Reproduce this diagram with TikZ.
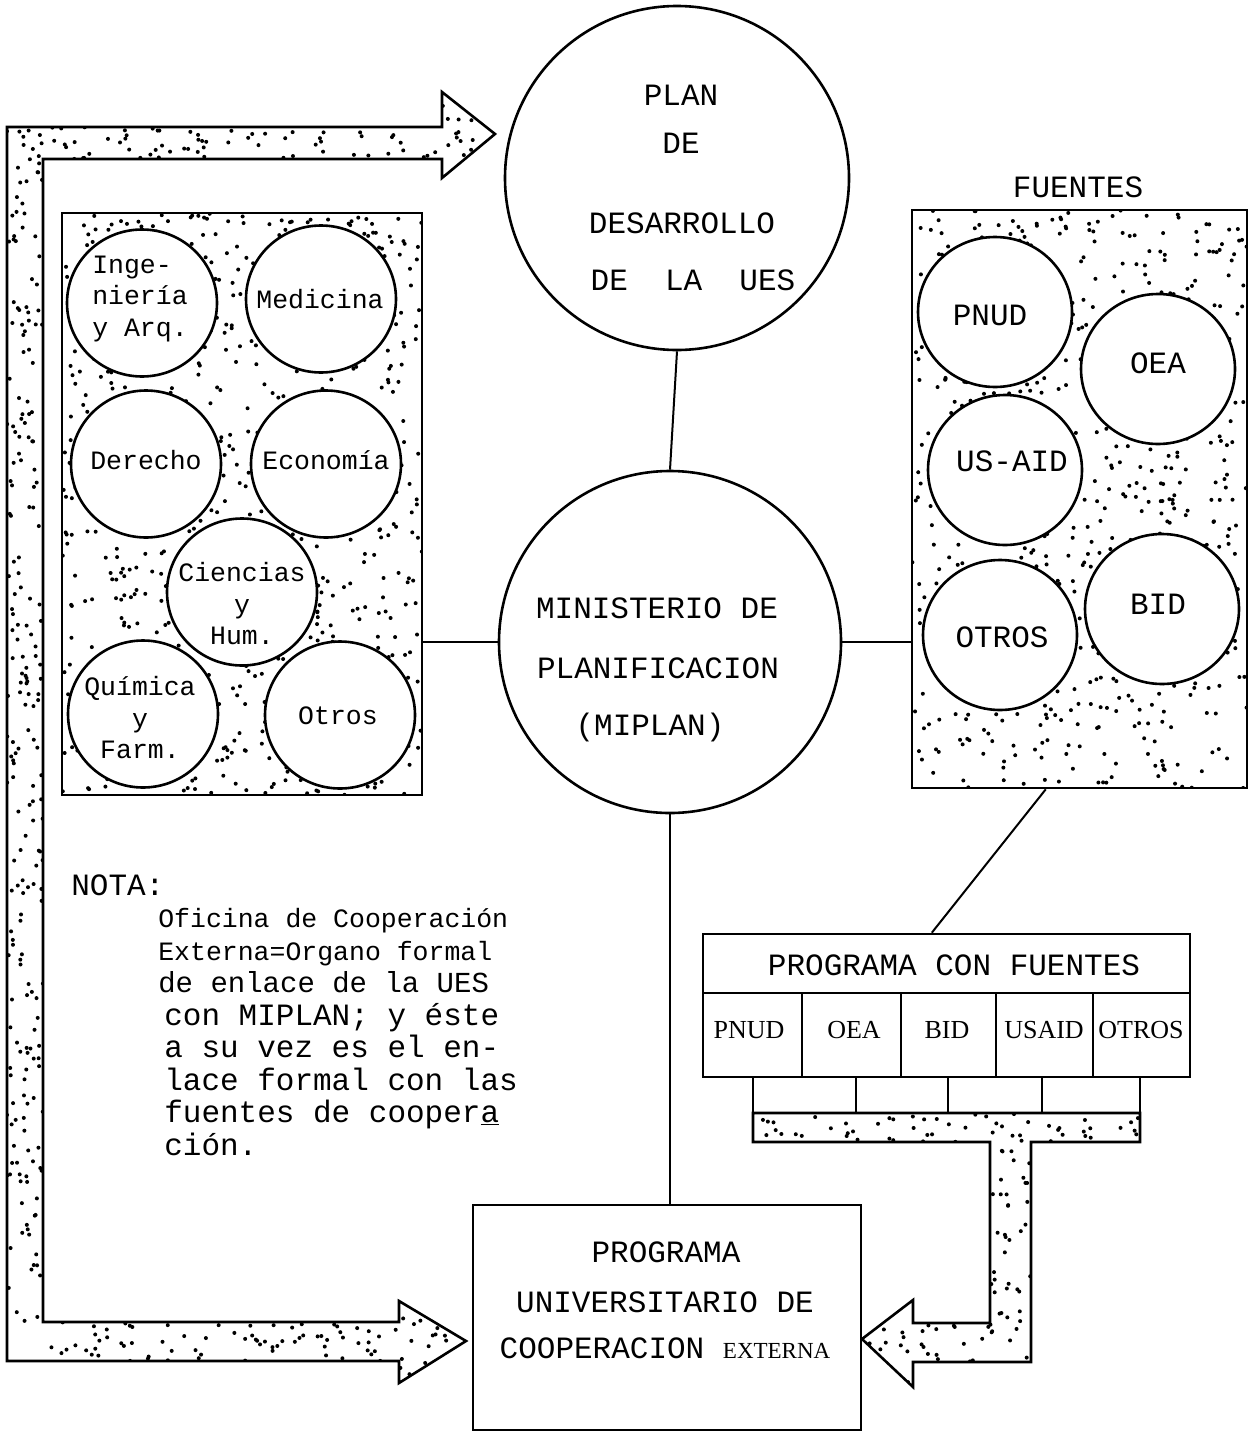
\documentclass[tikz,border=0pt]{standalone}
\usepackage{fontspec}
\setmainfont{Liberation Mono}
\newfontfamily\serfnt{Liberation Serif}
\usetikzlibrary{shapes.geometric,calc}
\newcommand\mystipple[5]{\foreach \i in {1,...,#5}{\fill[black] ({#1+rnd*(#3-#1)},{#2+rnd*(#4-#2)}) circle[radius=2pt];}}
\begin{document}
\begin{tikzpicture}[x=1pt,y=-1pt, line width=2.6pt, line join=miter,
  big/.style={font=\fontsize{31}{36}\selectfont, inner sep=0pt},
  mid/.style={font=\fontsize{29}{34}\selectfont, inner sep=0pt},
  small/.style={font=\fontsize{26.5}{31.5}\selectfont, inner sep=0pt},
  ser/.style={font=\serfnt\fontsize{26}{30}\selectfont, inner sep=0pt},
  facball/.style={ellipse, draw, fill=white, inner sep=0pt, minimum width=150pt, minimum height=147pt},
  srcball/.style={ellipse, draw, fill=white, inner sep=0pt, minimum width=154pt, minimum height=150pt},
  bigball/.style={circle, draw, fill=white, inner sep=0pt, minimum size=#1},
  box/.style={rectangle, draw, fill=white, inner sep=0pt},
  conn/.style={line width=2pt},
]
\pgfmathsetseed{7}
\fill[white] (0,0) rectangle (1253,1432);
\useasboundingbox (0,0) rectangle (1253,1432);

% big L arrow (left side)
\draw[fill=white, path picture={
    \mystipple{7}{127}{442}{159}{72}
    \mystipple{7}{159}{43}{1322}{210}
    \mystipple{43}{1322}{399}{1361}{72}
    \mystipple{442}{92}{495}{178}{22}
    \mystipple{399}{1301}{466}{1383}{28}}]
  (7,1361) -- (7,127) -- (442,127) -- (442,92) -- (495,134) -- (442,178) -- (442,159)
  -- (43,159) -- (43,1322) -- (399,1322) -- (399,1301) -- (466,1341) -- (399,1383)
  -- (399,1361) -- cycle;

% top circle
\node[bigball=344pt] (plan) at (677,178) {};
\node[big] (plan1) at (681,95) {PLAN};
\node[big] (plan2) at (681,143) {DE};
\node[big] (plan3) at (682,223) {DESARROLLO};
\node[big] (plan4) at (693,280) {DE~~LA~~UES};

% MIPLAN circle
\node[bigball=342pt] (miplan) at (670,642) {};
\node[big] (mip1) at (657,608) {MINISTERIO DE};
\node[big] (mip2) at (658,668) {PLANIFICACION};
\node[big] (mip3) at (650,727) {(MIPLAN)};

% faculties box (path picture coordinates are relative to the node centre)
\node[box, minimum width=360pt, minimum height=582pt,
  path picture={\mystipple{-180}{-291}{180}{291}{800}}] (facbox) at (242,504) {};
\node[facball] (ing) at (142,303) {};
\node[small, align=left] (ingt) at (140,299) {Inge-\\niería\\y Arq.};
\node[facball] (med) at (321,299) {};
\node[small] (medt) at (320,299) {Medicina};
\node[facball] (der) at (146,464) {};
\node[small] (dert) at (146,460) {Derecho};
\node[facball] (eco) at (326,464) {};
\node[small] (ecot) at (326,460) {Economía};
\node[facball] (cie) at (242,592) {};
\node[small, align=center] (ciet) at (242,604) {Ciencias\\y\\Hum.};
\node[facball] (qui) at (143,714) {};
\node[small, align=center] (quit) at (140,718) {Química\\y\\Farm.};
\node[facball] (otr) at (340,715) {};
\node[small] (otrt) at (338,716) {Otros};

% sources box
\node[big] (fuentes) at (1078,187) {FUENTES};
\node[box, minimum width=335pt, minimum height=578pt,
  path picture={\mystipple{-167.5}{-289}{167.5}{289}{640}}] (fbox) at (1079.5,499) {};
\node[srcball] (pnud) at (995,312) {};
\node[big] (pnudt) at (990,315) {PNUD};
\node[srcball] (oea) at (1158,369) {};
\node[big] (oeat) at (1158,363) {OEA};
\node[srcball] (usaid) at (1005,470) {};
\node[big] (usaidt) at (1012,461) {US-AID};
\node[srcball] (bid) at (1162,609) {};
\node[big] (bidt) at (1158,604) {BID};
\node[srcball] (otros) at (1000,635) {};
\node[big] (otrost) at (1002,637) {OTROS};

% programa con fuentes table
\node[box, minimum width=487pt, minimum height=59pt] (ptitle) at (946.5,963.5) {};
\node[big] (ptitlet) at (954,965) {PROGRAMA CON FUENTES};
\node[box, minimum width=99pt, minimum height=84pt] (c1) at (752.5,1035) {};
\node[box, minimum width=99pt, minimum height=84pt] (c2) at (851.5,1035) {};
\node[box, minimum width=95pt, minimum height=84pt] (c3) at (948.5,1035) {};
\node[box, minimum width=97pt, minimum height=84pt] (c4) at (1044.5,1035) {};
\node[box, minimum width=97pt, minimum height=84pt] (c5) at (1141.5,1035) {};
\node[ser] (c1t) at (749,1030) {PNUD};
\node[ser] (c2t) at (854,1030) {OEA};
\node[ser] (c3t) at (947,1030) {BID};
\node[ser] (c4t) at (1044,1030) {USAID};
\node[ser] (c5t) at (1141,1030) {OTROS};
\node[box, line width=2pt, minimum width=103pt, minimum height=36pt] (s1) at (804.5,1095) {};
\node[box, line width=2pt, minimum width=92pt, minimum height=36pt] (s2) at (902,1095) {};
\node[box, line width=2pt, minimum width=94pt, minimum height=36pt] (s3) at (995,1095) {};
\node[box, line width=2pt, minimum width=98pt, minimum height=36pt] (s4) at (1091,1095) {};

% right arrow from table to programa
\draw[fill=white, path picture={
    \mystipple{753}{1113}{1140}{1142}{55}
    \mystipple{990}{1142}{1031}{1362}{42}
    \mystipple{913}{1323}{990}{1362}{15}
    \mystipple{862}{1300}{913}{1387}{18}}]
  (753,1113) -- (1140,1113) -- (1140,1142) -- (1031,1142) -- (1031,1362) -- (913,1362)
  -- (913,1387) -- (862,1339) -- (913,1300) -- (913,1323) -- (990,1323) -- (990,1142)
  -- (753,1142) -- cycle;

% programa universitario box
\node[box, minimum width=388pt, minimum height=225pt] (puce) at (667,1317.5) {};
\node[big] (puce1) at (666,1252) {PROGRAMA};
\node[big] (puce2) at (665,1302) {UNIVERSITARIO DE};
\node[big] (puce3) at (665,1348) {COOPERACION {\serfnt\fontsize{23}{26}\selectfont EXTERNA}};

% connectors
\draw[conn] (plan.south) -- (miplan.north);
\draw[conn] (miplan.west) -- (miplan.west -| facbox.east);
\draw[conn] (miplan.east) -- (miplan.east -| fbox.west);
\draw[conn] (miplan.south) -- (miplan.south |- puce.north);
\draw[conn] ($(fbox.south west)!0.4!(fbox.south east)$) -- ($(ptitle.north west)!0.47!(ptitle.north east)$);

% note
\node[big, anchor=base west] (nota) at (70,895) {NOTA:};
\node[small, anchor=base west] (n1) at (157,927) {Oficina de Cooperación};
\node[small, anchor=base west] (n2) at (157,960) {Externa=Organo formal};
\node[mid, anchor=base west] (n3) at (157,992) {de enlace de la UES};
\node[big, anchor=base west] (n4) at (163,1025) {con MIPLAN; y éste};
\node[big, anchor=base west] (n5) at (163,1057) {a su vez es el en-};
\node[big, anchor=base west] (n6) at (163,1090) {lace formal con las};
\node[big, anchor=base west] (n7) at (163,1122) {fuentes de cooper\underline{a}};
\node[big, anchor=base west] (n8) at (163,1155) {ción.};
\end{tikzpicture}
\end{document}
